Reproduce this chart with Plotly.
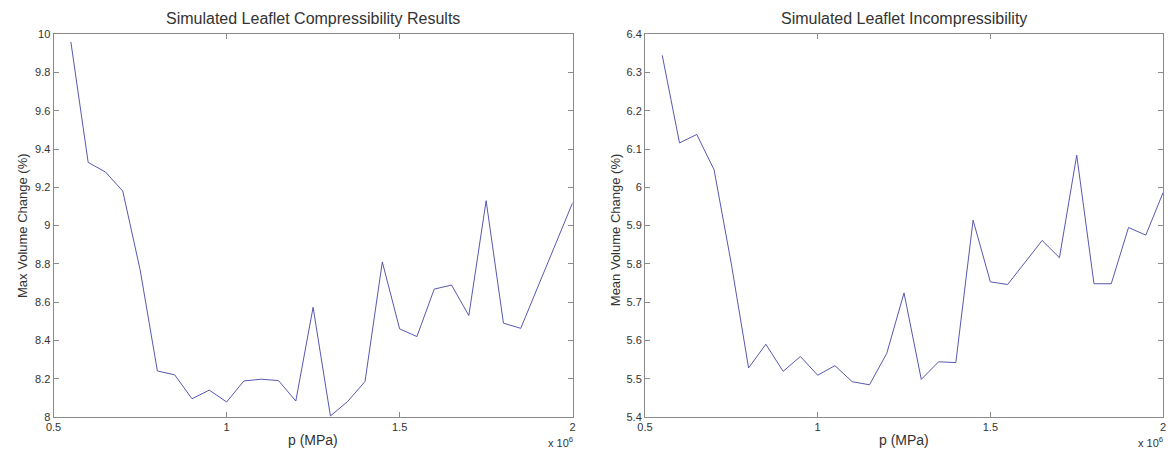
import plotly.graph_objects as go

W, H = 1173, 457

p_values = [0.55e6, 0.60e6, 0.65e6, 0.70e6, 0.75e6, 0.80e6, 0.85e6, 0.90e6, 0.95e6, 1.00e6,
            1.05e6, 1.10e6, 1.15e6, 1.20e6, 1.25e6, 1.30e6, 1.35e6, 1.40e6, 1.45e6, 1.50e6,
            1.55e6, 1.60e6, 1.65e6, 1.70e6, 1.75e6, 1.80e6, 1.85e6, 1.90e6, 1.95e6, 2.00e6]

max_volume_change = [9.96, 9.33, 9.28, 9.18, 8.77, 8.24, 8.22, 8.095, 8.14, 8.078,
                     8.188, 8.197, 8.19, 8.083, 8.573, 8.005, 8.081, 8.185, 8.81, 8.46,
                     8.42, 8.668, 8.689, 8.53, 9.13, 8.49, 8.463, 8.68, 8.90, 9.12]

mean_volume_change = [6.345, 6.116, 6.138, 6.046, 5.80, 5.528, 5.59, 5.519, 5.558, 5.509,
                      5.534, 5.492, 5.484, 5.566, 5.724, 5.498, 5.544, 5.542, 5.914, 5.753,
                      5.746, 5.804, 5.861, 5.816, 6.084, 5.748, 5.748, 5.895, 5.875, 5.986]

x_tickvals = [0.5e6, 1.0e6, 1.5e6, 2.0e6]
x_ticktext = ["0.5", "1", "1.5", "2"]
y1_tickvals = [8, 8.2, 8.4, 8.6, 8.8, 9, 9.2, 9.4, 9.6, 9.8, 10]
y1_ticktext = ["8", "8.2", "8.4", "8.6", "8.8", "9", "9.2", "9.4", "9.6", "9.8", "10"]
y2_tickvals = [5.4, 5.5, 5.6, 5.7, 5.8, 5.9, 6.0, 6.1, 6.2, 6.3, 6.4]
y2_ticktext = ["5.4", "5.5", "5.6", "5.7", "5.8", "5.9", "6", "6.1", "6.2", "6.3", "6.4"]

titles = ["Simulated Leaflet Compressibility Results", "Simulated Leaflet Incompressibility"]
y_titles = ["Max Volume Change (%)", "Mean Volume Change (%)"]
x_title = "p (MPa)"

FONT = "Liberation Sans, Arial, Helvetica, sans-serif"
LINE_COLOR = "#5858b0"
AX_COLOR = "#8a8a8a"
TXT = "#333333"

# pixel geometry
L1, R1 = 46, 570
L2, R2 = 643, 1166
TOP, BOT = 29, 422

def px(x):
    return x / W

def py(y):
    return 1 - y / H

fig = go.Figure()
fig.add_trace(go.Scatter(x=p_values, y=max_volume_change, mode="lines",
                         line=dict(color=LINE_COLOR, width=1), xaxis="x", yaxis="y",
                         showlegend=False))
fig.add_trace(go.Scatter(x=p_values, y=mean_volume_change, mode="lines",
                         line=dict(color=LINE_COLOR, width=1), xaxis="x2", yaxis="y2",
                         showlegend=False))

common_axis = dict(showgrid=False, zeroline=False, showline=True, linecolor=AX_COLOR,
                   linewidth=1, mirror="ticks", ticks="inside", ticklen=5,
                   tickcolor=AX_COLOR, tickwidth=1,
                   tickfont=dict(family=FONT, size=11, color=TXT))

fig.update_layout(
    width=W, height=H,
    margin=dict(l=0, r=0, t=0, b=0),
    paper_bgcolor="white", plot_bgcolor="white",
    font=dict(family=FONT, color=TXT),
    xaxis=dict(domain=[px(L1), px(R1)], range=[0.5e6, 2.0e6], anchor="y",
               tickvals=x_tickvals, ticktext=x_ticktext, **common_axis),
    yaxis=dict(domain=[py(BOT), py(TOP)], range=[8, 10], anchor="x",
               tickvals=y1_tickvals, ticktext=y1_ticktext, **common_axis),
    xaxis2=dict(domain=[px(L2), px(R2)], range=[0.5e6, 2.0e6], anchor="y2",
                tickvals=x_tickvals, ticktext=x_ticktext, **common_axis),
    yaxis2=dict(domain=[py(BOT), py(TOP)], range=[5.4, 6.4], anchor="x2",
                tickvals=y2_tickvals, ticktext=y2_ticktext, **common_axis),
)

ann = []
for (l, r, t) in [(L1, R1, titles[0]), (L2, R2, titles[1])]:
    ann.append(dict(x=px((l + r) / 2), y=py(13), xref="paper", yref="paper",
                    text=t, showarrow=False, xanchor="center", yanchor="middle",
                    font=dict(family=FONT, size=16, color=TXT)))
    ann.append(dict(x=px((l + r) / 2), y=py(446), xref="paper", yref="paper",
                    text=x_title, showarrow=False, xanchor="center", yanchor="middle",
                    font=dict(family=FONT, size=14, color=TXT)))
    ann.append(dict(x=px(r + 2), y=py(448), xref="paper", yref="paper",
                    text="x 10<sup>6</sup>", showarrow=False, xanchor="right",
                    yanchor="middle", font=dict(family=FONT, size=11, color=TXT)))
ann.append(dict(x=px(14), y=py(225), xref="paper", yref="paper", text=y_titles[0],
                showarrow=False, textangle=-90, xanchor="center", yanchor="middle",
                font=dict(family=FONT, size=13, color=TXT)))
ann.append(dict(x=px(614), y=py(230), xref="paper", yref="paper", text=y_titles[1],
                showarrow=False, textangle=-90, xanchor="center", yanchor="middle",
                font=dict(family=FONT, size=13, color=TXT)))
fig.update_layout(annotations=ann)

fig.write_html("out.html")
